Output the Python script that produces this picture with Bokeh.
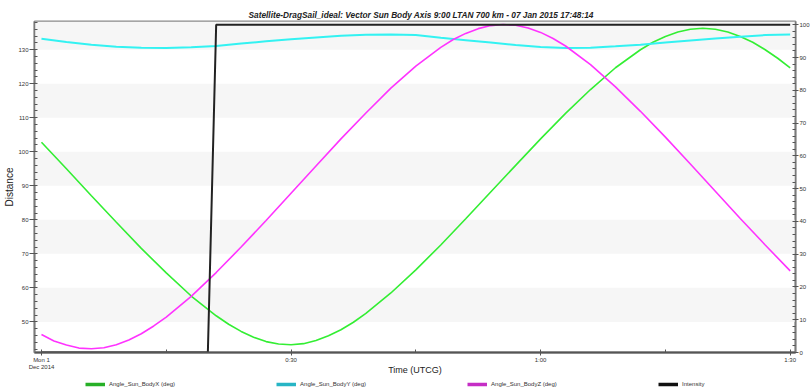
from bokeh.plotting import figure
from bokeh.layouts import column
from bokeh.models import (Range1d, LinearAxis, FixedTicker, SingleIntervalTicker,
                          Legend, LegendItem)
from bokeh.embed import file_html
from bokeh.resources import INLINE

TITLE = "Satellite-DragSail_ideal:  Vector Sun Body Axis 9:00 LTAN 700 km - 07 Jan 2015 17:48:14"

# time in minutes after Mon 1 Dec 2014 00:00 UTCG
minutes = [0, 3, 6, 9, 12, 15, 18, 21, 24, 27, 30, 33, 36, 39, 42, 45,
           48, 51, 54, 57, 60, 63, 66, 69, 72, 75, 78, 81, 84, 87, 90]
x_minutes = [0, 3, 6, 9, 12, 15, 18, 21, 22.5, 24, 25.5, 27, 28.5, 30, 31.5, 33,
             34.5, 36, 37.5, 39, 42, 45, 48, 51, 54, 57, 60, 63, 66, 69, 72,
             73.5, 75, 76.5, 78, 79.5, 81, 82.5, 84, 85.5, 87, 88.5, 90]
angle_x = [102.8, 95.0, 87.1, 79.3, 71.6, 64.4, 57.6, 51.8, 49.3, 47.2, 45.5, 44.2,
           43.5, 43.3, 43.6, 44.5, 45.9, 47.7, 49.9, 52.5, 58.5, 65.3, 72.6, 80.3,
           88.2, 96.0, 103.8, 111.3, 118.3, 124.7, 130.0, 132.2, 133.9, 135.2,
           136.0, 136.3, 136.0, 135.2, 133.9, 132.2, 130.0, 127.5, 124.7]
angle_y = [133.2, 132.3, 131.5, 130.9, 130.6, 130.5, 130.7, 131.1, 131.8, 132.5,
           133.1, 133.6, 134.1, 134.4, 134.5, 134.3, 133.5, 132.8, 132.1, 131.4,
           130.8, 130.5, 130.6, 131.0, 131.5, 132.1, 132.7, 133.3, 133.8, 134.3, 134.5]
z_minutes = [0, 1.5, 3, 4.5, 6, 7.5, 9, 10.5, 12, 13.5, 15, 18, 21, 24, 27, 30,
             33, 36, 39, 42, 45, 48, 49.5, 51, 52.5, 54, 55.5, 57, 58.5, 60,
             61.5, 63, 66, 69, 72, 75, 78, 81, 84, 87, 90]
angle_z = [46.3, 44.4, 43.2, 42.3, 42.1, 42.4, 43.3, 44.7, 46.5, 48.8, 51.4,
           57.5, 64.5, 72.0, 79.8, 87.8, 95.8, 103.8, 111.4, 118.7, 125.2, 130.7,
           133.0, 134.8, 136.2, 137.1, 137.4, 137.2, 136.4, 135.1, 133.3, 131.1,
           125.6, 119.1, 111.9, 104.3, 96.4, 88.4, 80.4, 72.6, 65.0]
intensity_minutes = [0, 20.0, 21.0, 90]
intensity = [0, 0, 100, 100]

x_ticks = [0, 30, 60, 90]
x_minor_ticks = [15, 45, 75]
x_tick_labels = ["Mon 1\nDec 2014", "0:30", "1:00", "1:30"]
series_names = ["Angle_Sun_BodyX (deg)", "Angle_Sun_BodyY (deg)",
                "Angle_Sun_BodyZ (deg)", "Intensity"]
line_colors = ["#33ee33", "#33f2f2", "#ff33ff", "#222222"]
swatch_colors = ["#27b027", "#27b5c5", "#c52ec5", "#111111"]

FONT = "Liberation Sans"
TICK_COLOR = "#555555"

p = figure(width=812, height=378, output_backend="svg", toolbar_location=None,
           x_range=Range1d(-0.838, 90.64), y_range=Range1d(41.0, 138.3),
           min_border_left=34, min_border_right=0, min_border_top=21,
           min_border_bottom=26, title=TITLE)

p.title.align = "left"
p.title.offset = 214
p.title.text_font = FONT
p.title.text_font_size = "8.3px"
p.title.text_font_style = "bold italic"
p.title.text_color = "#222222"
p.title.standoff = 4

p.outline_line_color = "#8a8a8a"
p.outline_line_width = 2

p.xgrid.visible = False
p.ygrid.grid_line_color = None
p.ygrid.band_fill_color = "#f6f6f6"
p.ygrid.band_fill_alpha = 1.0
p.ygrid.ticker = FixedTicker(ticks=[50, 60, 70, 80, 90, 100, 110, 120, 130, 138.3])

p.extra_y_ranges = {"intensity": Range1d(0, 101)}

def style_axis(ax):
    ax.axis_line_color = "#7a7a7a"
    ax.axis_line_width = 1.5
    ax.major_tick_line_color = TICK_COLOR
    ax.minor_tick_line_color = TICK_COLOR
    ax.major_tick_in = 2
    ax.major_tick_out = 4
    ax.minor_tick_in = 3
    ax.minor_tick_out = 0
    ax.major_label_text_font = FONT
    ax.major_label_text_font_size = "6px"
    ax.major_label_text_color = "#333333"
    ax.axis_label_text_font = FONT
    ax.axis_label_text_font_style = "normal"
    ax.axis_label_text_color = "#222222"

yl = p.yaxis[0]
style_axis(yl)
yl.ticker = SingleIntervalTicker(interval=10, num_minor_ticks=5)
yl.axis_label = "Distance"
yl.axis_label_text_font_size = "10px"
yl.axis_label_standoff = 0
yl.major_label_standoff = 1
yl.major_tick_out = 5

yr = LinearAxis(y_range_name="intensity",
                ticker=SingleIntervalTicker(interval=10, num_minor_ticks=5))
style_axis(yr)
yr.major_tick_out = 3
yr.major_label_standoff = 1
p.add_layout(yr, "right")

xa = p.xaxis[0]
style_axis(xa)
xa.axis_line_color = "#555555"
xa.axis_line_width = 2
xa.ticker = FixedTicker(ticks=x_ticks, minor_ticks=x_minor_ticks)
xa.major_label_overrides = {t: s for t, s in zip(x_ticks, x_tick_labels)}
xa.major_tick_in = 3
xa.major_tick_out = 3
xa.major_label_standoff = 1
xa.axis_label = "Time (UTCG)"
xa.axis_label_text_font_size = "9px"
xa.axis_label_standoff = -8

p.line(x_minutes, angle_x, line_color=line_colors[0], line_width=1.6)
p.line(minutes, angle_y, line_color=line_colors[1], line_width=2)
p.line(z_minutes, angle_z, line_color=line_colors[2], line_width=1.6)
p.line(intensity_minutes, intensity, line_color=line_colors[3], line_width=2,
       y_range_name="intensity")

# legend strip under the chart
strip = figure(width=812, height=13, output_backend="svg", toolbar_location=None,
               x_axis_type=None, y_axis_type=None,
               x_range=Range1d(0, 90), y_range=Range1d(0, 140),
               min_border_left=0, min_border_right=0, min_border_top=0,
               min_border_bottom=0, outline_line_color=None)
strip.grid.visible = False
legend_series = [(x_minutes, angle_x), (minutes, angle_y),
                 (z_minutes, angle_z), (intensity_minutes, intensity)]
items = []
for name, (xs, ys), col in zip(series_names, legend_series, swatch_colors):
    r = strip.line(xs, ys, line_color=col, line_width=3.5, visible=False)
    items.append(LegendItem(label=name, renderers=[r]))

legend = Legend(items=items, orientation="horizontal", location=(51, 2),
                padding=0, margin=0, spacing=101,
                glyph_width=20, glyph_height=10,
                label_width=66, label_height=10, label_standoff=4,
                label_text_font=FONT, label_text_font_size="6px",
                label_text_color="#333333", inactive_fill_alpha=0,
                border_line_color=None, background_fill_alpha=0)
strip.add_layout(legend)

open("out.html", "w").write(file_html(column(p, strip), INLINE))
